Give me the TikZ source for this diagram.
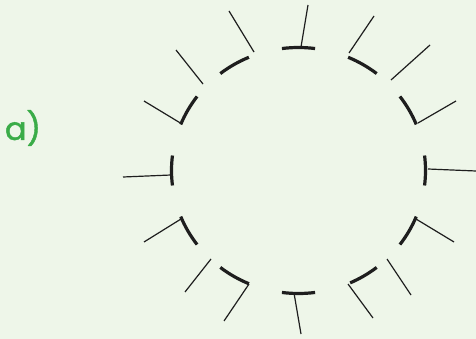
\documentclass[tikz,border=0pt]{standalone}
\usepackage{fontspec}
\newfontfamily\labelfont[FakeBold=1.3]{Poppins}
\definecolor{bg}{RGB}{238,246,233}
\definecolor{lblgreen}{RGB}{58,172,72}
\definecolor{ink}{RGB}{30,30,30}
\tikzset{
  thinline/.style={draw=ink, line width=1.2pt},
  thickarc/.style={draw=ink, line width=3.2pt},
}
\newcommand\arcseg[2]{\draw[thickarc] (c) ++(-#1:127 and 123) arc[start angle=-#1, end angle=-#2, x radius=127, y radius=123];}
\begin{document}
\begin{tikzpicture}[x=1pt,y=-1pt]
\fill[bg] (0,0) rectangle (476,339);
\useasboundingbox (0,0) rectangle (476,339);
\coordinate (c) at (298.5,170.5);
\node[text=lblgreen, font=\labelfont\fontsize{32}{34}\selectfont, inner sep=0pt] (lbl) at (23,128) {a)};
% T shapes
\arcseg{82.5}{97.5}
\arcseg{262.5}{277.5}
\arcseg{173}{187}
\arcseg{-7}{7}
\draw[thinline] (301,47) -- (308,5);
\draw[thinline] (294,293) -- (301,334);
\draw[thinline] (171,175) -- (123,177);
\draw[thinline] (428,169) -- (476,171);
% L shapes
\arcseg{22}{37}
\arcseg{52}{67}
\arcseg{113}{128}
\arcseg{143}{158}
\arcseg{-22}{-37}
\arcseg{-52}{-66}
\arcseg{-113}{-128}
\arcseg{-143}{-158}
\draw[thinline] (418,123) -- (456,101);
\draw[thinline] (349,53) -- (374,16);
\draw[thinline] (254,52) -- (229,11);
\draw[thinline] (182,124) -- (144,101);
\draw[thinline] (416,219) -- (454,242);
\draw[thinline] (348,284) -- (373,318);
\draw[thinline] (249,284) -- (224,321);
\draw[thinline] (181,219) -- (144,242);
% bare lines
\draw[thinline] (391,80) -- (430,45);
\draw[thinline] (203,84) -- (176,50);
\draw[thinline] (387,259) -- (411,295);
\draw[thinline] (211,259) -- (185,292);
\end{tikzpicture}
\end{document}
